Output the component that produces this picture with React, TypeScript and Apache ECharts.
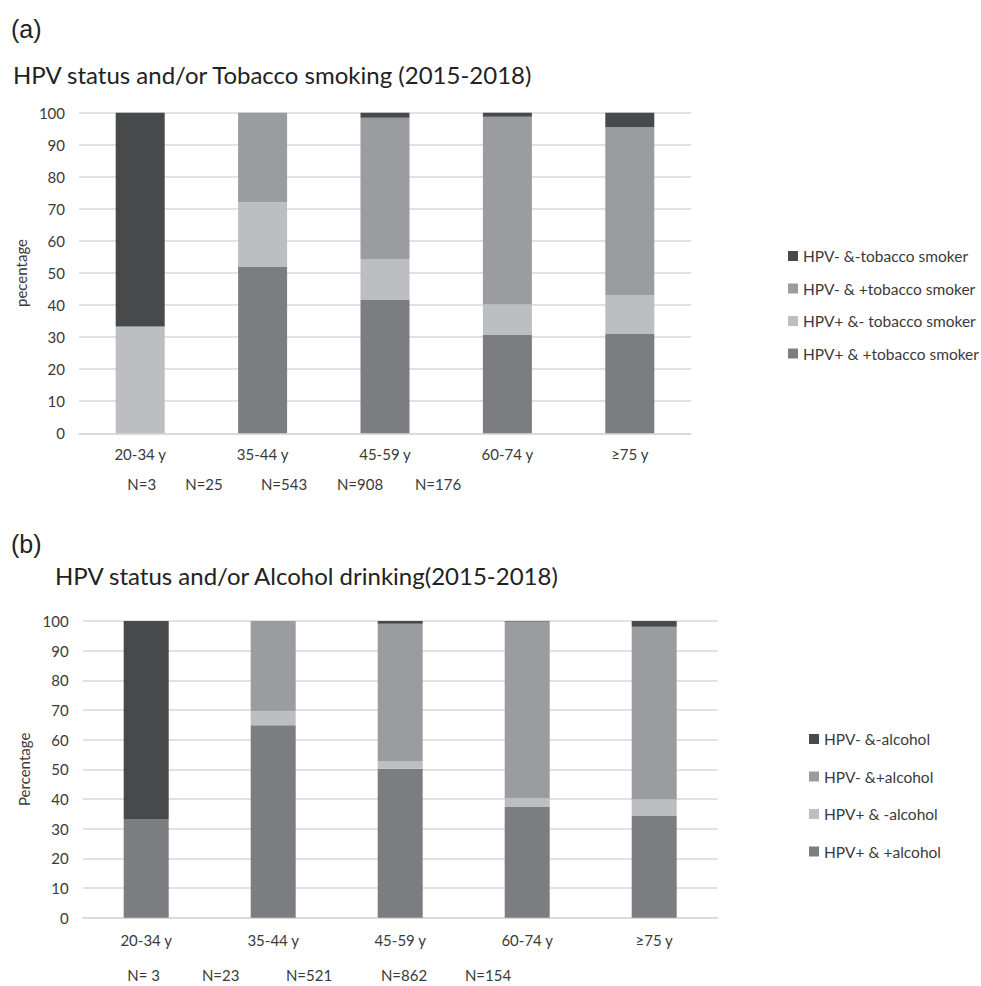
import React, { useEffect, useRef } from "react";
import * as echarts from "echarts";

const ageGroups = ["20-34 y", "35-44 y", "45-59 y", "60-74 y", "≥75 y"];

// Panel (a): tobacco
const tobaccoNames = [
  "HPV- &-tobacco smoker",
  "HPV- & +tobacco smoker",
  "HPV+ &- tobacco smoker",
  "HPV+ & +tobacco smoker",
];
const tobHpvPosSmoker = [0, 52.0, 41.7, 30.7, 31.0];
const tobHpvPosNonSmoker = [33.3, 20.1, 12.7, 9.5, 12.1];
const tobHpvNegSmoker = [0, 27.9, 44.0, 58.5, 52.4];
const tobHpvNegNonSmoker = [66.7, 0, 1.6, 1.3, 4.5];
const tobaccoN = ["N=3", "N=25", "N=543", "N=908", "N=176"];

// Panel (b): alcohol
const alcoholNames = [
  "HPV- &-alcohol",
  "HPV- &+alcohol",
  "HPV+ & -alcohol",
  "HPV+ & +alcohol",
];
const alcHpvPosDrinker = [33.3, 64.9, 50.2, 37.3, 34.3];
const alcHpvPosNonDrinker = [0, 4.7, 2.6, 3.0, 5.5];
const alcHpvNegDrinker = [0, 30.4, 46.3, 59.5, 58.3];
const alcHpvNegNonDrinker = [66.7, 0, 0.9, 0.2, 1.9];
const alcoholN = ["N= 3", "N=23", "N=521", "N=862", "N=154"];

const yTicks = [0, 10, 20, 30, 40, 50, 60, 70, 80, 90, 100];

const C_DARK = "#48494b";
const C_MID = "#9b9c9f";
const C_LIGHT = "#bdbec1";
const C_BASE = "#7c7d80";
const TEXT = "#3a3a3a";
const FONT = "Lato, 'Open Sans', sans-serif";

export default function App() {
  const ref = useRef<HTMLDivElement>(null);
  useEffect(() => {
    document.body.style.margin = "0";
    if (!ref.current) return;
    const chart = echarts.init(ref.current, undefined, { renderer: "svg" });

    const mkX = (gridIndex: number, margin: number) => ({
      type: "category",
      gridIndex,
      data: ageGroups,
      axisLine: { show: true, lineStyle: { color: "#d9d9d9", width: 1.5 } },
      axisTick: { show: false },
      axisLabel: { color: TEXT, fontSize: 15, fontFamily: FONT, margin },
    });
    const mkY = (gridIndex: number, name: string, nameGap: number) => ({
      type: "value",
      gridIndex,
      min: yTicks[0],
      max: yTicks[yTicks.length - 1],
      interval: 10,
      name,
      nameLocation: "middle",
      nameGap,
      nameRotate: 90,
      nameTextStyle: { color: TEXT, fontSize: 15, fontFamily: FONT },
      axisLine: { show: false },
      axisTick: { show: false },
      axisLabel: { color: TEXT, fontSize: 15, fontFamily: FONT, margin: 14 },
      splitLine: { lineStyle: { color: "#d9d9d9", width: 1.5 } },
    });

    const mkSeries = (
      name: string,
      data: number[],
      color: string,
      idx: number,
      stack: string,
      barWidth: number
    ) => ({
      name,
      type: "bar",
      stack,
      xAxisIndex: idx,
      yAxisIndex: idx,
      data,
      barWidth,
      itemStyle: { color },
      emphasis: { disabled: true },
    });

    const nTexts = (labels: string[], xs: number[], y: number) =>
      labels.map((t, i) => ({
        type: "text",
        x: xs[i],
        y,
        style: {
          text: t,
          fill: TEXT,
          fontSize: 15,
          fontFamily: FONT,
          align: "center",
          verticalAlign: "middle",
        },
      }));

    const legendText = { color: TEXT, fontSize: 15.5, fontFamily: FONT };

    chart.setOption({
      animation: false,
      grid: [
        { left: 79, width: 612, top: 112.7, height: 320.6 },
        { left: 82.7, width: 635, top: 621, height: 296.7 },
      ],
      xAxis: [mkX(0, 13), mkX(1, 15)],
      yAxis: [mkY(0, "pecentage", 49), mkY(1, "Percentage", 51)],
      legend: [
        {
          orient: "vertical",
          left: 788,
          top: 248,
          padding: 0,
          itemWidth: 10,
          itemHeight: 10,
          itemGap: 16.5,
          icon: "rect",
          data: tobaccoNames,
          textStyle: legendText,
        },
        {
          orient: "vertical",
          left: 809,
          top: 731,
          padding: 0,
          itemWidth: 10,
          itemHeight: 10,
          itemGap: 21.5,
          icon: "rect",
          data: alcoholNames,
          textStyle: legendText,
        },
      ],
      series: [
        mkSeries(tobaccoNames[3], tobHpvPosSmoker, C_BASE, 0, "a", 49),
        mkSeries(tobaccoNames[2], tobHpvPosNonSmoker, C_LIGHT, 0, "a", 49),
        mkSeries(tobaccoNames[1], tobHpvNegSmoker, C_MID, 0, "a", 49),
        mkSeries(tobaccoNames[0], tobHpvNegNonSmoker, C_DARK, 0, "a", 49),
        mkSeries(alcoholNames[3], alcHpvPosDrinker, C_BASE, 1, "b", 45),
        mkSeries(alcoholNames[2], alcHpvPosNonDrinker, C_LIGHT, 1, "b", 45),
        mkSeries(alcoholNames[1], alcHpvNegDrinker, C_MID, 1, "b", 45),
        mkSeries(alcoholNames[0], alcHpvNegNonDrinker, C_DARK, 1, "b", 45),
      ],
      graphic: [
        {
          type: "text",
          x: 11,
          y: 29,
          style: {
            text: "(a)",
            fill: "#222",
            fontSize: 25,
            fontFamily: "'Liberation Sans', Arial, sans-serif",
            verticalAlign: "middle",
          },
        },
        {
          type: "text",
          x: 13,
          y: 74,
          style: {
            text: "HPV status and/or Tobacco smoking (2015-2018)",
            fill: "#222",
            fontSize: 24,
            fontFamily: FONT,
            verticalAlign: "middle",
          },
        },
        {
          type: "text",
          x: 11,
          y: 544,
          style: {
            text: "(b)",
            fill: "#222",
            fontSize: 25,
            fontFamily: "'Liberation Sans', Arial, sans-serif",
            verticalAlign: "middle",
          },
        },
        {
          type: "text",
          x: 55,
          y: 575,
          style: {
            text: "HPV status and/or Alcohol drinking(2015-2018)",
            fill: "#222",
            fontSize: 24,
            fontFamily: FONT,
            verticalAlign: "middle",
          },
        },
        ...nTexts(tobaccoN, [141.7, 204, 284, 360, 438], 484),
        ...nTexts(alcoholN, [143.7, 220.7, 309, 404, 488], 975),
      ],
    });
    return () => chart.dispose();
  }, []);
  return <div ref={ref} style={{ width: 981, height: 986 }} />;
}
